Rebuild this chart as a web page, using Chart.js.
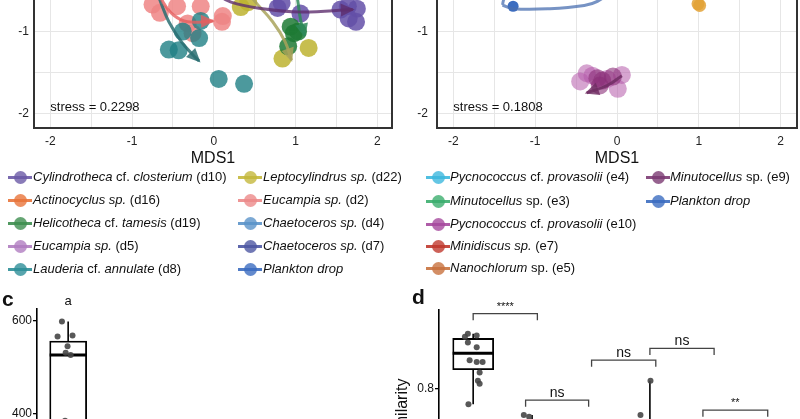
<!DOCTYPE html>
<html><head><meta charset="utf-8">
<script src="https://cdn.jsdelivr.net/npm/chart.js@4.4.1/dist/chart.umd.min.js"></script>
<style>
html,body{margin:0;padding:0;background:#fff;}
#wrap{position:relative;width:800px;height:419px;overflow:hidden;font-family:"Liberation Sans",Arial,sans-serif;color:#111;background:#fff;}
canvas{position:absolute;}
.row{position:absolute;height:16px;white-space:nowrap;}
.row .txt{position:absolute;top:0;font-size:13px;line-height:16px;}
.key{position:absolute;top:1.5px;width:24px;height:13px;}
.key .ln{position:absolute;left:0;top:5px;width:24px;height:3px;}
.key .pt{position:absolute;left:5.5px;top:0;width:13px;height:13px;border-radius:50%;}
.plab{position:absolute;font-weight:bold;font-size:21px;line-height:21px;}
</style></head>
<body><div id="wrap">
<canvas id="cA" width="401" height="270" style="left:0;top:-100px"></canvas>
<canvas id="cB" width="406" height="270" style="left:400px;top:-100px"></canvas>
<canvas id="cC" width="380" height="231" style="left:0;top:280px"></canvas>
<canvas id="cD" width="420" height="236" style="left:380px;top:280px"></canvas>
<div class="plab" style="left:2px;top:288px">c</div>
<div class="plab" style="left:412px;top:286px">d</div>
</div>
<script>
// ================= DATA =================
const stressA = 'stress = 0.2298';
const stressB = 'stress = 0.1808';

// Left NMDS – sample points
const d10X = [0.78, 0.83, 1.06, 1.55, 1.64, 1.75, 1.65, 1.74];
const d10Y = [-0.71, -0.65, -0.78, -0.73, -0.69, -0.72, -0.84, -0.88];
const d2X  = [-0.75, -0.45, -0.16, -0.66, -0.32, 0.11, 0.10, -0.26];
const d2Y  = [-0.67, -0.69, -0.69, -0.77, -0.90, -0.81, -0.88, -1.02];
const d8X  = [-0.16, -0.38, -0.18, -0.55, -0.43, 0.06, 0.37];
const d8Y  = [-0.87, -1.00, -1.08, -1.22, -1.23, -1.58, -1.64];
const d22X = [0.33, 0.42, 0.84, 1.16];
const d22Y = [-0.70, -0.64, -1.33, -1.20];
const d19X = [0.94, 0.98, 1.03, 0.91];
const d19Y = [-0.94, -1.02, -1.00, -1.18];
// Left NMDS – trajectories
const d10PathX = [0.00, 0.21, 0.60, 1.06, 1.70];
const d10PathY = [-0.52, -0.64, -0.72, -0.76, -0.73];
const d2PathX  = [-0.70, -0.62, -0.49, -0.32, -0.01];
const d2PathY  = [-0.45, -0.64, -0.80, -0.88, -0.87];
const d8PathX  = [-0.72, -0.65, -0.55, -0.40, -0.26, -0.18];
const d8PathY  = [-0.45, -0.64, -0.88, -1.12, -1.28, -1.36];
const d22PathX = [0.40, 0.51, 0.72, 0.87, 0.95];
const d22PathY = [-0.50, -0.64, -0.88, -1.12, -1.35];
const d19PathX = [1.00, 1.03, 1.06, 1.11];
const d19PathY = [-0.45, -0.64, -0.85, -1.05];

// Right NMDS
const pdX = [-1.27];
const pdY = [-0.69];
const pdPathX = [-1.40, -1.27, -0.82, -0.40, -0.24, -0.14, -0.36, -1.06, -1.37, -1.40];
const pdPathY = [-0.675, -0.72, -0.72, -0.68, -0.63, -0.54, -0.46, -0.49, -0.59, -0.675];
const e5X = [0.99, 1.01];
const e5Y = [-0.66, -0.68];
const e10X = [-0.45, -0.37, -0.30, -0.12, 0.06, 0.01];
const e10Y = [-1.61, -1.51, -1.54, -1.58, -1.53, -1.70];
const e9X = [-0.24, -0.18, -0.21, -0.05];
const e9Y = [-1.57, -1.60, -1.66, -1.55];
const e9PathX = [0.06, -0.12, -0.37];
const e9PathY = [-1.54, -1.66, -1.75];

// Legends
const legendALabels = ['<i>Cylindrotheca</i> cf. <i>closterium</i> (d10)', '<i>Actinocyclus sp.</i> (d16)',
  '<i>Helicotheca</i> cf. <i>tamesis</i> (d19)', '<i>Eucampia sp.</i> (d5)', '<i>Lauderia</i> cf. <i>annulate</i> (d8)',
  '<i>Leptocylindrus sp.</i> (d22)', '<i>Eucampia sp.</i> (d2)', '<i>Chaetoceros sp.</i> (d4)',
  '<i>Chaetoceros sp.</i> (d7)', '<i>Plankton drop</i>'];
const legendAColors = ['#6B5AA6', '#E8743B', '#3E8E50', '#B07DC0', '#2E8F98', '#C4B83C', '#EC8A8A', '#5B93C9', '#4D57A3', '#3C6DC0'];
const legendBLabels = ['<i>Pycnococcus</i> cf. <i>provasolii</i> (e4)', '<i>Minutocellus</i> sp. (e3)',
  '<i>Pycnococcus</i> cf. <i>provasolii</i> (e10)', '<i>Minidiscus sp.</i> (e7)', '<i>Nanochlorum</i> sp. (e5)',
  '<i>Minutocellus</i> sp. (e9)', '<i>Plankton drop</i>'];
const legendBColors = ['#3DB8DD', '#3CAE6E', '#A64A9E', '#C0392E', '#C8723E', '#7C3B73', '#3C6DC0'];

// Panel c
const cTicks = [400, 600];
const cGroups = [1];
const cQ1 = [360], cMed = [526], cQ3 = [556], cLo = [300], cHi = [598];
const cLetters = ['a'];
const cPtX = [0.90, 0.83, 1.07, 0.99, 0.96, 1.04, 0.95, 1.05, 0.92, 1.02];
const cPtY = [598, 566, 568, 545, 531, 526, 385, 360, 330, 300];

// Panel d
const dTicks = [0.8];
const dGroups = [1, 2, 3, 4, 5, 6];
const dQ1  = [0.832, 0.66, 0.62, 0.68, 0.64, 0.66];
const dMed = [0.860, 0.69, 0.66, 0.71, 0.67, 0.70];
const dQ3  = [0.885, 0.72, 0.70, 0.74, 0.70, 0.73];
const dLo  = [0.773, 0.62, 0.57, 0.62, 0.60, 0.61];
const dHi  = [0.893, 0.755, 0.74, 0.813, 0.73, 0.745];
const dPtX = [0.91, 0.86, 1.06, 0.91, 1.06, 0.94, 1.06, 1.16, 1.11, 1.08, 1.11, 0.92, 1.86, 1.95, 4.01, 3.84, 3.05, 5.02, 6.03];
const dPtY = [0.893, 0.888, 0.890, 0.878, 0.870, 0.848, 0.845, 0.845, 0.827, 0.813, 0.808, 0.773, 0.755, 0.752, 0.813, 0.755, 0.70, 0.68, 0.71];
const brStart = [1.00, 1.89, 3.01, 4.00, 4.90];
const brEnd   = [2.09, 2.96, 4.10, 5.09, 6.00];
const brY     = [0.927, 0.780, 0.848, 0.868, 0.763];
const brLabel = ['****', 'ns', 'ns', 'ns', '**'];

// ================= HELPERS =================
function rgba(hex, a) {
  const n = parseInt(hex.slice(1), 16);
  return `rgba(${(n >> 16) & 255},${(n >> 8) & 255},${n & 255},${a})`;
}
const pts = (xs, ys) => xs.map((x, i) => ({x, y: ys[i]}));
const noPad = (s) => { s.paddingTop = 0; s.paddingBottom = 0; s.paddingLeft = 0; s.paddingRight = 0; };

function pointSet(xs, ys, color, r, alpha) {
  return {type: 'scatter', data: pts(xs, ys), pointRadius: r, pointHoverRadius: r,
    backgroundColor: rgba(color, alpha), borderWidth: 0, order: 2};
}
function pathSet(xs, ys, color, alpha, arrow) {
  return {type: 'line', data: pts(xs, ys), borderColor: rgba(color, alpha), borderWidth: 3,
    pointRadius: 0, tension: 0.4, fill: false, arrow: arrow, order: 1};
}

const arrowPlugin = {
  id: 'arrowHeads',
  afterDatasetsDraw(chart) {
    const ctx = chart.ctx, ca = chart.chartArea;
    chart.data.datasets.forEach((ds, i) => {
      if (!ds.arrow) return;
      const el = chart.getDatasetMeta(i).data;
      if (el.length < 2) return;
      const p = el[el.length - 1], q = el[el.length - 2];
      const a = Math.atan2(p.y - q.y, p.x - q.x);
      ctx.save();
      ctx.beginPath(); ctx.rect(ca.left, ca.top, ca.width, ca.height); ctx.clip();
      ctx.fillStyle = ds.borderColor;
      ctx.translate(p.x, p.y); ctx.rotate(a);
      ctx.beginPath(); ctx.moveTo(2, 0); ctx.lineTo(-12, -6.5); ctx.lineTo(-12, 6.5); ctx.closePath(); ctx.fill();
      ctx.restore();
    });
  }
};
const framePlugin = {
  id: 'frame',
  afterDraw(chart, args, opts) {
    if (!opts || !opts.on) return;
    const ctx = chart.ctx, ca = chart.chartArea;
    ctx.save(); ctx.strokeStyle = '#333'; ctx.lineWidth = 2;
    ctx.strokeRect(ca.left, ca.top, ca.width, ca.height);
    ctx.restore();
  }
};
const stressPlugin = {
  id: 'stress',
  afterDraw(chart, args, opts) {
    if (!opts || !opts.text) return;
    const ctx = chart.ctx, xs = chart.scales.x, ys = chart.scales.y;
    ctx.save(); ctx.fillStyle = '#111'; ctx.font = '13px "Liberation Sans", Arial, sans-serif';
    ctx.textBaseline = 'middle'; ctx.textAlign = 'left';
    ctx.fillText(opts.text, xs.getPixelForValue(opts.x), ys.getPixelForValue(opts.y));
    ctx.restore();
  }
};

function mdsChart(id, datasets, stress, xMin, xMax, yPad, padRight, yWidth) {
  return new Chart(document.getElementById(id), {
    type: 'scatter',
    data: {datasets},
    plugins: [arrowPlugin, framePlugin, stressPlugin],
    options: {
      responsive: false, animation: false, events: [],
      layout: {padding: {top: 5.5, right: padRight, left: 0, bottom: 0}},
      plugins: {legend: {display: false}, tooltip: {enabled: false},
        frame: {on: true}, stress: {text: stress, x: -2.0, y: -1.93}},
      scales: {
        x: {type: 'linear', min: xMin, max: xMax,
          afterFit: s => { s.height = 42; noPad(s); },
          ticks: {stepSize: 0.5, includeBounds: false, autoSkip: false, maxRotation: 0,
            callback: v => Number.isInteger(v) ? String(v) : '',
            font: {size: 12, family: '"Liberation Sans", Arial'}, color: '#222', padding: 6},
          grid: {color: '#E6E6E6', lineWidth: 1, drawTicks: false},
          border: {display: false},
          title: {display: true, text: 'MDS1', color: '#111',
            font: {size: 16, family: '"Liberation Sans", Arial'}, padding: {top: 0, bottom: 2}}},
        y: {type: 'linear', min: -2.18, max: 0.5,
          afterFit: s => { s.width = yWidth; noPad(s); },
          ticks: {stepSize: 0.5, includeBounds: false, autoSkip: false,
            callback: v => (v === -1 || v === -2) ? String(v) : '',
            font: {size: 12, family: '"Liberation Sans", Arial'}, color: '#222', padding: yPad},
          grid: {color: '#E6E6E6', lineWidth: 1, drawTicks: false},
          border: {display: false}}
      }
    }
  });
}

// ================= LEFT NMDS =================
mdsChart('cA', [
  pathSet(d10PathX, d10PathY, '#5E2E6E', 0.8, true),
  pathSet(d2PathX, d2PathY, '#E65F5F', 0.8, true),
  pathSet(d8PathX, d8PathY, '#2A6F72', 0.85, true),
  pathSet(d22PathX, d22PathY, '#A9A35C', 0.85, true),
  pathSet(d19PathX, d19PathY, '#2F8A5A', 0.85, true),
  pointSet(d19X, d19Y, '#1F7A35', 9, 0.85),
  pointSet(d22X, d22Y, '#BDB330', 9, 0.85),
  pointSet(d10X, d10Y, '#6450A8', 9, 0.85),
  pointSet(d8X, d8Y, '#1F7F85', 9, 0.8),
  pointSet(d2X, d2Y, '#EE8585', 9, 0.85)
], stressA, -2.2, 2.18, 5, 8, 34);

// ================= RIGHT NMDS =================
mdsChart('cB', [
  pathSet(pdPathX, pdPathY, '#4A6FB0', 0.75, false),
  pathSet(e9PathX, e9PathY, '#6E2C62', 0.8, true),
  pointSet(pdX, pdY, '#3C6DC0', 5.5, 1),
  pointSet(e5X, e5Y, '#E3A236', 6.5, 0.85),
  pointSet(e9X, e9Y, '#8A2F78', 9, 0.6),
  pointSet(e10X, e10Y, '#B45AAA', 9, 0.55)
], stressB, -2.2, 2.2, 9, 3, 37);

// ================= LEGENDS =================
function legend(labels, colors, colX, textOff, perCol, rowY) {
  const wrap = document.getElementById('wrap');
  labels.forEach((lab, i) => {
    const col = Math.floor(i / perCol), r = i % perCol;
    const row = document.createElement('div');
    row.className = 'row';
    row.style.left = colX[col] + 'px';
    row.style.top = (rowY[r] - 8) + 'px';
    row.innerHTML = `<div class="key"><div class="ln" style="background:${rgba(colors[i], 0.9)}"></div>` +
      `<div class="pt" style="background:${rgba(colors[i], 0.8)}"></div></div>` +
      `<div class="txt" style="left:${textOff}px">${lab}</div>`;
    wrap.appendChild(row);
  });
}
legend(legendALabels, legendAColors, [8, 238], 25, 5, [177, 200, 223, 246, 269]);
legend(legendBLabels, legendBColors, [426, 646], 24, 5, [177, 201, 224, 246, 268]);

// ================= BOX PANELS =================
const boxPlugin = {
  id: 'boxParts',
  beforeDatasetsDraw(chart, args, o) {
    if (!o || !o.groups) return;
    const ctx = chart.ctx, xs = chart.scales.x, ys = chart.scales.y;
    ctx.save(); ctx.strokeStyle = '#000'; ctx.lineWidth = 1.6;
    o.groups.forEach((g, i) => {
      const x = xs.getPixelForValue(g);
      ctx.beginPath();
      ctx.moveTo(x, ys.getPixelForValue(o.hi[i])); ctx.lineTo(x, ys.getPixelForValue(o.q3[i]));
      ctx.moveTo(x, ys.getPixelForValue(o.q1[i])); ctx.lineTo(x, ys.getPixelForValue(o.lo[i]));
      ctx.stroke();
    });
    ctx.restore();
  },
  afterDatasetDraw(chart, args, o) {
    if (!o || !o.groups || args.index !== o.boxIndex) return;
    const ctx = chart.ctx, xs = chart.scales.x, ys = chart.scales.y;
    ctx.save(); ctx.strokeStyle = '#000'; ctx.lineWidth = 3;
    o.groups.forEach((g, i) => {
      const x = xs.getPixelForValue(g), y = ys.getPixelForValue(o.med[i]);
      ctx.beginPath(); ctx.moveTo(x - o.half, y); ctx.lineTo(x + o.half, y); ctx.stroke();
    });
    ctx.restore();
  },
  afterDraw(chart, args, o) {
    if (!o) return;
    const ctx = chart.ctx, xs = chart.scales.x, ys = chart.scales.y;
    ctx.save();
    if (o.letters) {
      ctx.fillStyle = '#111'; ctx.font = '13px "Liberation Sans", Arial'; ctx.textAlign = 'center'; ctx.textBaseline = 'middle';
      o.letters.forEach((t, i) => ctx.fillText(t, xs.getPixelForValue(o.groups[i]), chart.chartArea.top - 8));
    }
    if (o.brStart) {
      ctx.strokeStyle = '#444'; ctx.lineWidth = 1.3; ctx.fillStyle = '#111'; ctx.textAlign = 'center'; ctx.textBaseline = 'alphabetic';
      o.brStart.forEach((s, i) => {
        const x1 = xs.getPixelForValue(s), x2 = xs.getPixelForValue(o.brEnd[i]), y = ys.getPixelForValue(o.brY[i]);
        ctx.beginPath(); ctx.moveTo(x1, y + 6.5); ctx.lineTo(x1, y); ctx.lineTo(x2, y); ctx.lineTo(x2, y + 6.5); ctx.stroke();
        const star = o.brLabel[i].indexOf('*') >= 0;
        ctx.font = (star ? '11px' : '14px') + ' "Liberation Sans", Arial';
        ctx.fillText(o.brLabel[i], (x1 + x2) / 2, y - (star ? 4 : 3));
      });
    }
    ctx.restore();
  }
};

function boxChart(id, cfg) {
  return new Chart(document.getElementById(id), {
    type: 'bar',
    data: {datasets: [
      {type: 'scatter', data: pts(cfg.ptX, cfg.ptY), pointRadius: 3, backgroundColor: 'rgba(70,70,70,0.9)', borderWidth: 0, order: 0},
      {type: 'bar', data: cfg.groups.map((g, i) => ({x: g, y: [cfg.q1[i], cfg.q3[i]]})),
        backgroundColor: '#fff', borderColor: '#000', borderWidth: 1.8, borderSkipped: false,
        barThickness: cfg.barW, order: 1}
    ]},
    plugins: [boxPlugin],
    options: {
      responsive: false, animation: false, events: [],
      layout: {padding: {top: cfg.padTop, right: 0, left: 0, bottom: 0}},
      plugins: {legend: {display: false}, tooltip: {enabled: false},
        boxParts: {groups: cfg.groups, q1: cfg.q1, q3: cfg.q3, med: cfg.med, lo: cfg.lo, hi: cfg.hi,
          half: cfg.barW / 2, boxIndex: 1, letters: cfg.letters, brStart: cfg.brStart, brEnd: cfg.brEnd,
          brY: cfg.brY, brLabel: cfg.brLabel}},
      scales: {
        x: {type: 'linear', display: false, min: cfg.xMin, max: cfg.xMax, offset: false},
        y: {type: 'linear', min: cfg.yMin, max: cfg.yMax,
          afterFit: s => { s.width = cfg.yWidth; noPad(s); },
          afterBuildTicks: s => { s.ticks = cfg.ticks.map(v => ({value: v})); },
          ticks: {autoSkip: false, callback: v => String(v),
            font: {size: 12, family: '"Liberation Sans", Arial'}, color: '#111', padding: 1},
          grid: {drawOnChartArea: false, drawTicks: true, tickLength: 4, color: '#000', lineWidth: 1.3},
          border: {display: true, color: '#000', width: 1.6},
          title: cfg.yTitle ? {display: true, text: cfg.yTitle, color: '#111',
            font: {size: 16, family: '"Liberation Sans", Arial'}, padding: {top: 13, bottom: 0}} : {display: false}}
      }
    }
  });
}

boxChart('cC', {groups: cGroups, q1: cQ1, q3: cQ3, med: cMed, lo: cLo, hi: cHi, letters: cLetters, ticks: cTicks,
  ptX: cPtX, ptY: cPtY, barW: 37, padTop: 29, xMin: 0.5, xMax: 5.94, yMin: 200, yMax: 625, yWidth: 37});

boxChart('cD', {groups: dGroups, q1: dQ1, q3: dQ3, med: dMed, lo: dLo, hi: dHi, ticks: dTicks,
  ptX: dPtX, ptY: dPtY, barW: 41, padTop: 30, xMin: 0.42, xMax: 6.48, yMin: 0.59, yMax: 0.9333,
  yWidth: 59, yTitle: 'Similarity', brStart, brEnd, brY, brLabel});
</script>
</body></html>
